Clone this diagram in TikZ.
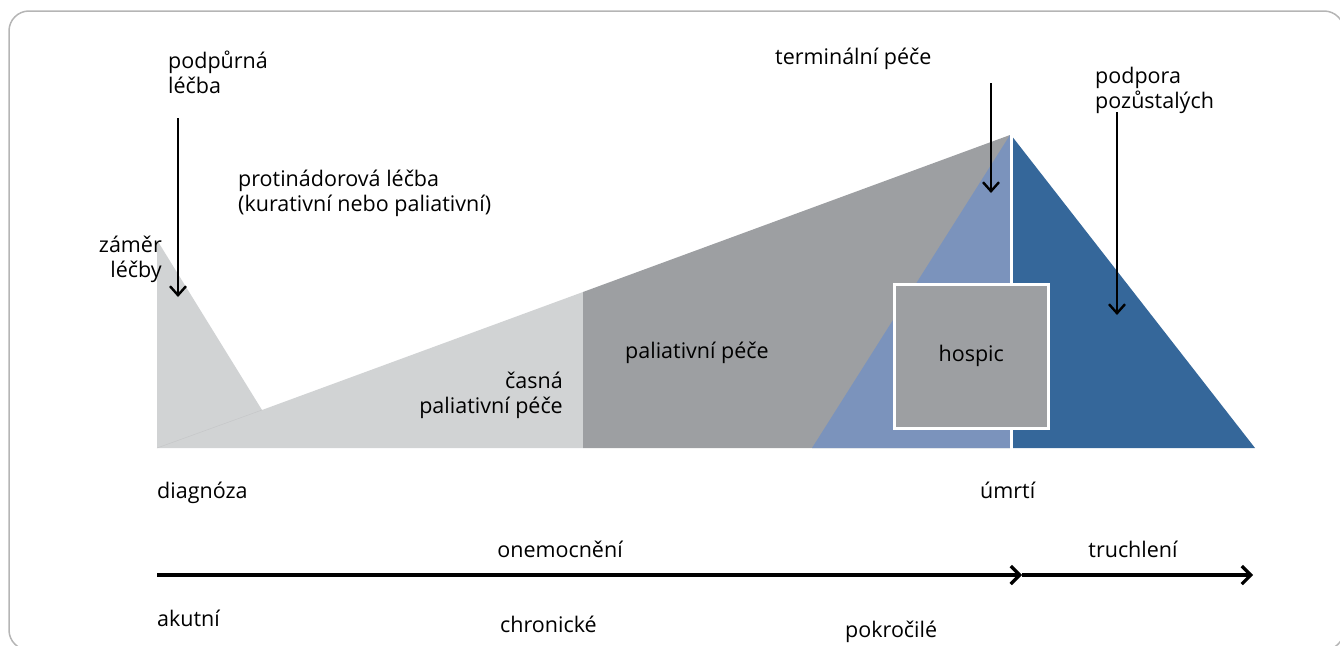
\documentclass[tikz,border=0pt]{standalone}
\usepackage{fontspec}
\setmainfont{Open Sans}
\usetikzlibrary{arrows.meta}
\definecolor{lgray}{HTML}{D1D3D4}
\definecolor{dgray}{HTML}{9D9FA2}
\definecolor{lblue}{HTML}{7B93BC}
\definecolor{dblue}{HTML}{35679A}
\definecolor{frame}{HTML}{B5B5B5}
\tikzset{
  lbl/.style={font=\fontsize{21.5}{25}\selectfont, inner sep=0pt, align=left},
  varrow/.style={line width=2.6pt, -{Straight Barb[length=9pt,width=16pt,line width=2.4pt]}},
  harrow/.style={line width=4pt, -{Straight Barb[length=9pt,width=18pt,line width=3.2pt]}},
}
\begin{document}
\begin{tikzpicture}[x=1pt,y=-1pt]
\useasboundingbox (0,0) rectangle (1340,645);
\begin{scope}
\clip (0,0) rectangle (1340,645);
\draw[frame, line width=1.5pt, rounded corners=20pt] (9,11) rectangle (1344,650);
\end{scope}
% shapes
\fill[lgray] (157,240) -- (262,410) -- (583,292) -- (583,448) -- (157,448) -- cycle;
\draw[dgray!60, line width=0.4pt] (157,448) -- (262,410);
\fill[dgray] (583,292) -- (1010,135) -- (1010,448) -- (583,448) -- cycle;
\fill[lblue] (812,448) -- (1010,135) -- (1010,448) -- cycle;
\fill[dblue] (1011,135) -- (1255,448) -- (1011,448) -- cycle;
\draw[white, line width=3pt] (1011,133) -- (1011,449);
\node[draw=white, line width=2.5pt, fill=dgray, minimum width=154pt, minimum height=144pt, inner sep=0pt, anchor=north west, font=\fontsize{21.5}{25}\selectfont] (hospic) at (893,283) {hospic};
% labels
\node[lbl, anchor=base west] (podp) at (168,93) {podpůrná\\léčba};
\node[lbl, anchor=base east, align=right] (zamer) at (162,277) {záměr\\léčby};
\node[lbl, anchor=base west] (proti) at (238,211) {protinádorová léčba\\(kurativní nebo paliativní)};
\node[lbl, anchor=base east, align=right] (casna) at (563,413) {časná\\paliativní péče};
\node[lbl, anchor=base west] (pal) at (625,358) {paliativní péče};
\node[lbl, anchor=base west] (term) at (775,64) {terminální péče};
\node[lbl, anchor=base west] (pozu) at (1095,108) {podpora\\pozůstalých};
\node[lbl, anchor=base west] (diag) at (157,498) {diagnóza};
\node[lbl, anchor=base west] (umrti) at (980,498) {úmrtí};
\node[lbl, anchor=base] (onem) at (560,557) {onemocnění};
\node[lbl, anchor=base] (truch) at (1133,557) {truchlení};
\node[lbl, anchor=base west] (akut) at (157,626) {akutní};
\node[lbl, anchor=base west] (chron) at (500,632) {chronické};
\node[lbl, anchor=base west] (pokr) at (845,637) {pokročilé};
% arrows
\coordinate (a1s) at (178,118); \coordinate (a1e) at (178,297);
\coordinate (a2s) at (991,83); \coordinate (a2e) at (991,193);
\coordinate (a3s) at (1117,112); \coordinate (a3e) at (1117,315);
\draw[varrow] (a1s) -- (a1e);
\draw[varrow] (a2s) -- (a2e);
\draw[varrow] (a3s) -- (a3e);
\coordinate (t0) at (157,575); \coordinate (t1) at (1022,575); \coordinate (t2) at (1253,575);
\draw[harrow] (t0) -- (t1);
\draw[harrow] (t1) -- (t2);
\end{tikzpicture}
\end{document}
